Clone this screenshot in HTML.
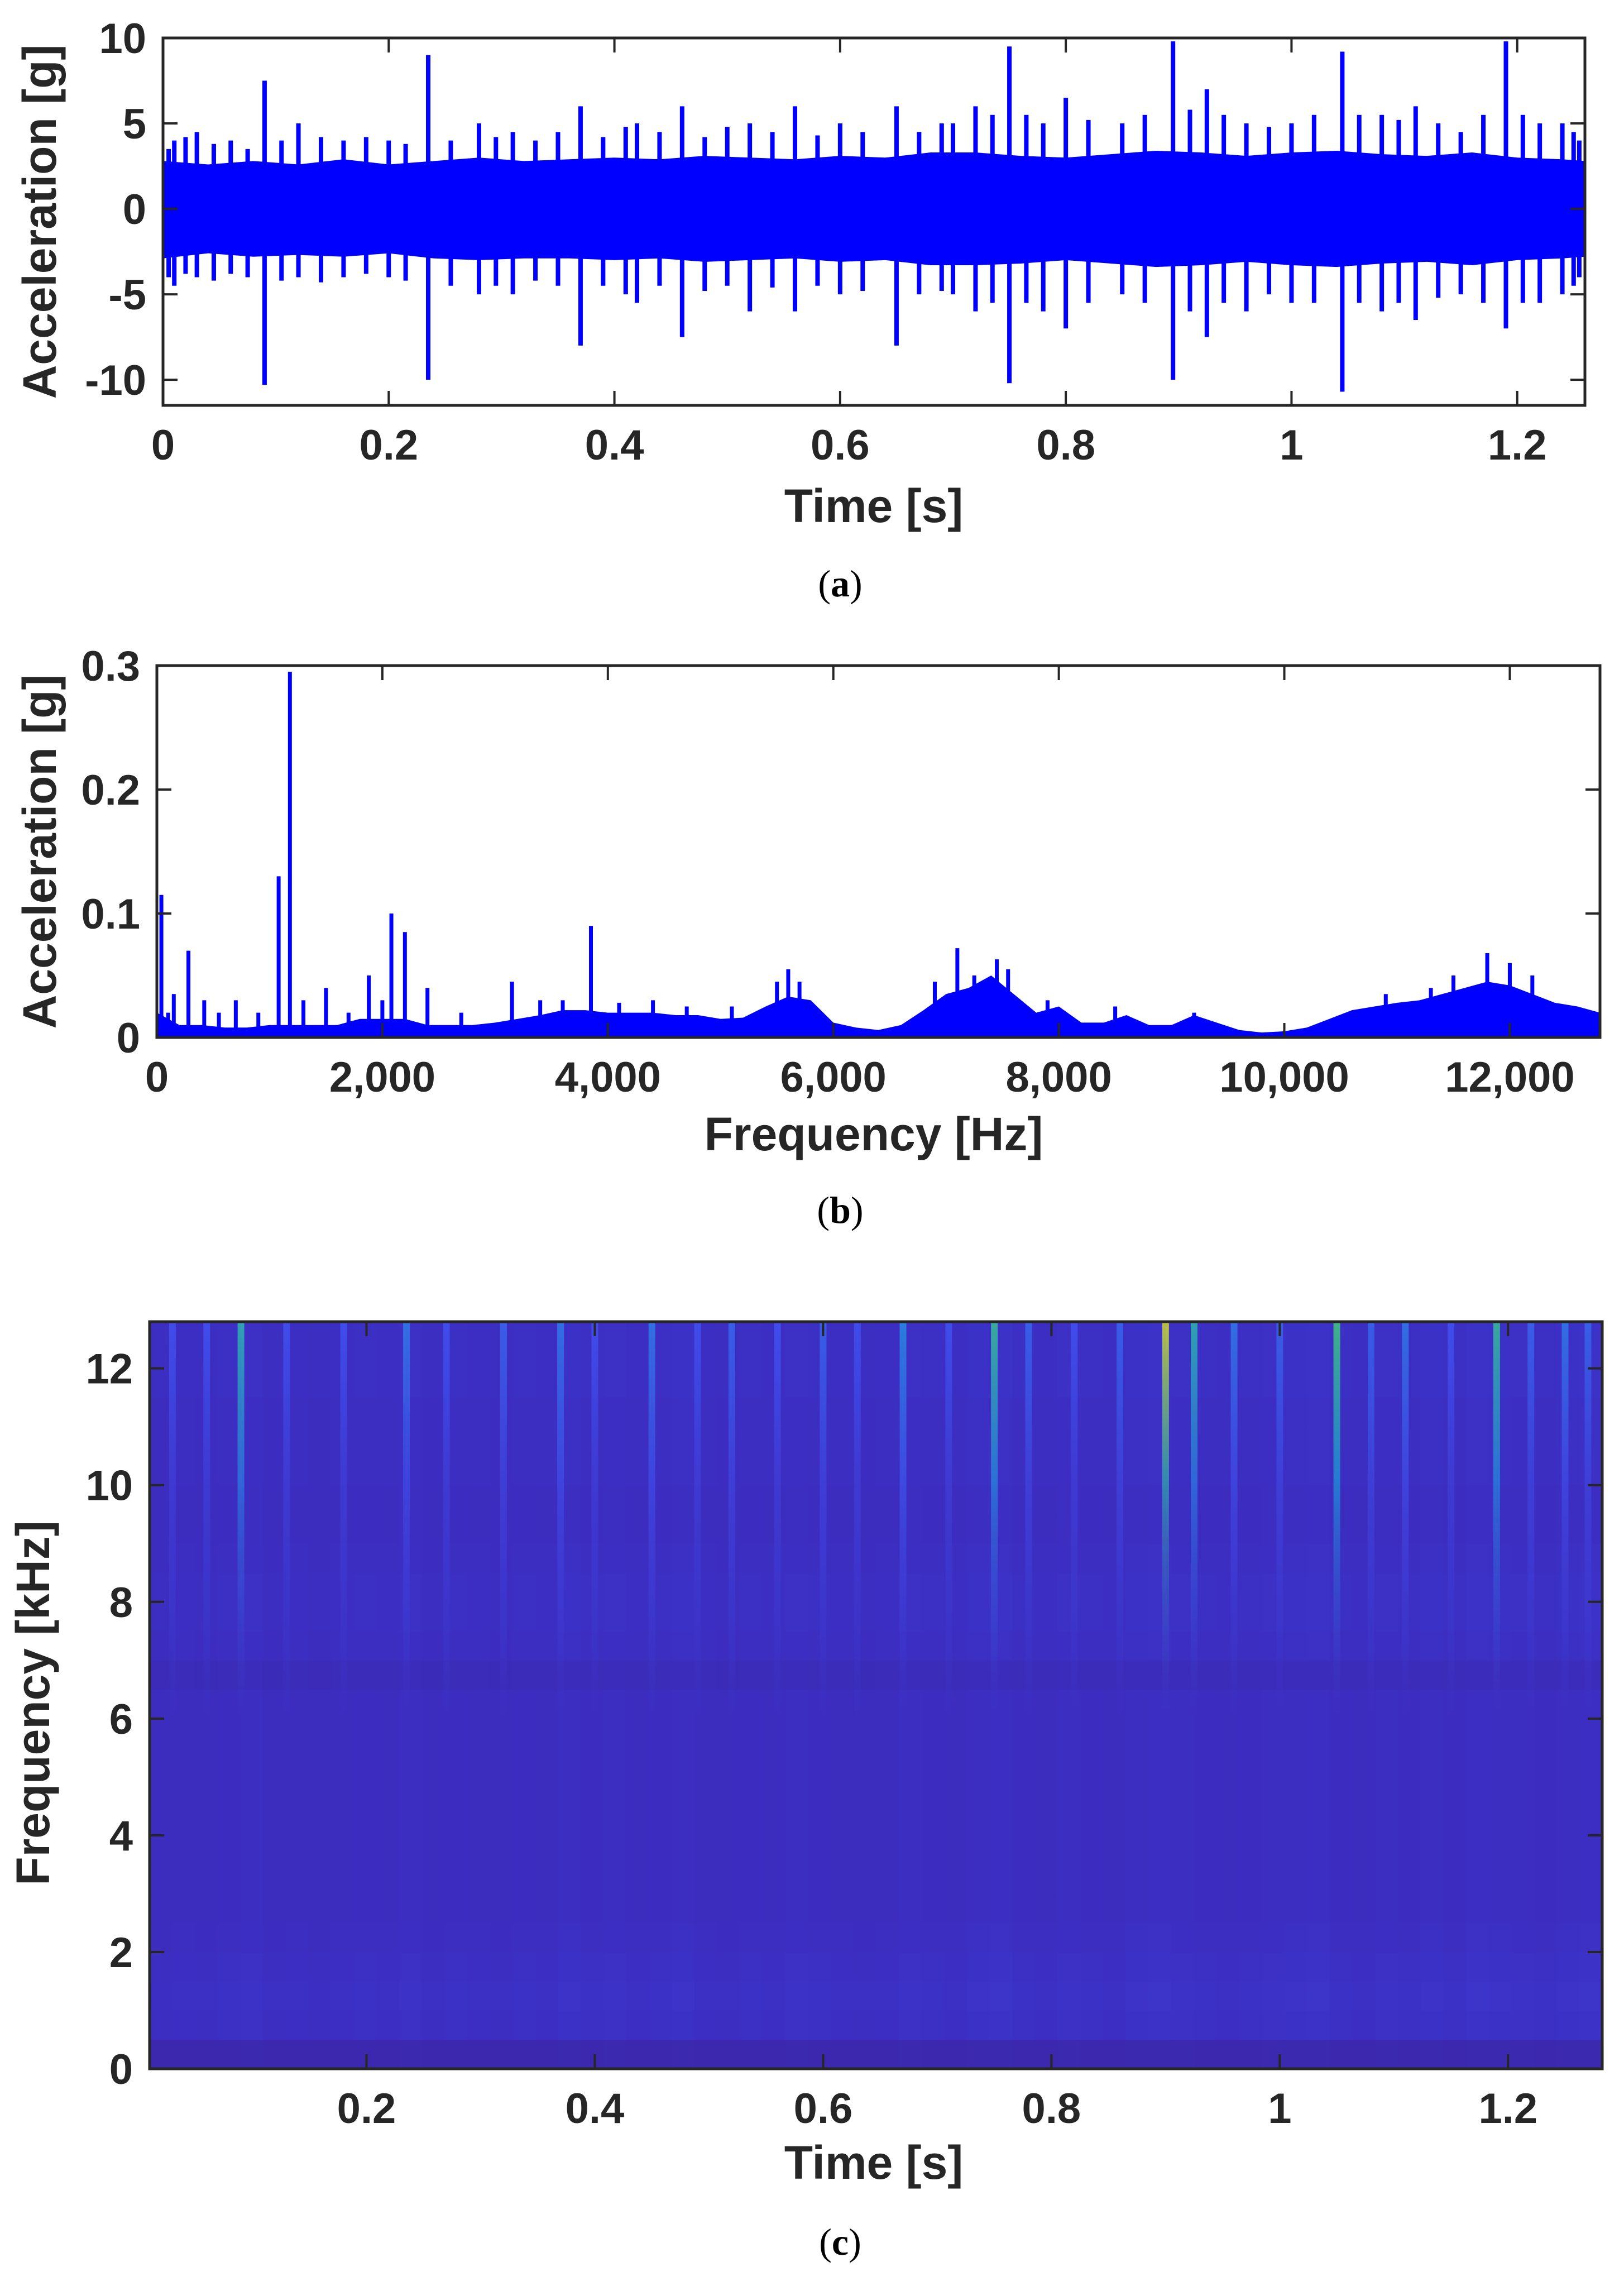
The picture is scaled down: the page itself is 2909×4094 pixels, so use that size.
<!DOCTYPE html>
<html><head><meta charset="utf-8"><style>
body{margin:0;background:#fff;}
svg{display:block;font-family:"Liberation Sans",Arial,sans-serif;}
.tk{font-size:76px;font-weight:bold;fill:#262626;}
.tt{font-size:84px;font-weight:bold;fill:#262626;}
.cap{font-size:68px;font-family:"Liberation Serif",serif;fill:#000;}
</style></head><body>
<svg id="fig" width="2909" height="4094" viewBox="0 0 2909 4094" xmlns="http://www.w3.org/2000/svg">
<rect width="2909" height="4094" fill="#fff"/>
<g id="pa"></g>
<g id="pb"></g>
<g id="pc"></g>
<text class="cap" x="1505" y="1068" text-anchor="middle">(<tspan font-weight="bold">a</tspan>)</text>
<text class="cap" x="1505" y="2190" text-anchor="middle">(<tspan font-weight="bold">b</tspan>)</text>
<text class="cap" x="1505" y="4038" text-anchor="middle">(<tspan font-weight="bold">c</tspan>)</text>
</svg>
<script>
// ---- Panel (a) data ----
const envT = [0,0.04,0.08,0.12,0.16,0.2,0.24,0.28,0.32,0.36,0.4,0.44,0.48,0.52,0.56,0.6,0.64,0.68,0.72,0.76,0.8,0.84,0.88,0.92,0.96,1.0,1.04,1.08,1.12,1.16,1.2,1.24,1.26];
const envPos = [2.8,2.6,2.8,2.6,2.9,2.6,2.8,3.0,2.8,2.9,3.0,2.9,3.1,3.0,2.9,3.1,3.0,3.3,3.3,3.1,3.0,3.2,3.4,3.3,3.1,3.3,3.4,3.2,3.1,3.3,3.0,2.9,2.8];
const envNeg = [-2.9,-2.6,-2.8,-2.7,-2.8,-2.6,-2.9,-3.0,-2.9,-2.9,-3.0,-2.9,-3.1,-3.0,-2.9,-3.1,-3.0,-3.3,-3.3,-3.2,-3.0,-3.2,-3.4,-3.3,-3.1,-3.3,-3.4,-3.2,-3.1,-3.3,-3.0,-2.9,-2.8];
const spikeT = [0.005,0.01,0.02,0.03,0.045,0.06,0.075,0.09,0.105,0.12,0.14,0.16,0.18,0.2,0.215,0.235,0.255,0.28,0.295,0.31,0.33,0.35,0.37,0.39,0.41,0.42,0.44,0.46,0.48,0.5,0.52,0.54,0.56,0.58,0.6,0.62,0.65,0.67,0.69,0.7,0.72,0.735,0.75,0.765,0.78,0.8,0.82,0.85,0.87,0.895,0.91,0.925,0.94,0.96,0.98,1.0,1.02,1.045,1.06,1.08,1.095,1.11,1.13,1.15,1.17,1.19,1.205,1.22,1.24,1.25,1.255];
const spikePos = [3.5,4,4.2,4.5,3.8,4,3.5,7.5,4,5,4.2,4,4.2,4,3.8,9,4,5,4.2,4.5,4,4.5,6,4.2,4.8,5,4.5,6,4.2,4.8,5,4.5,6,4.3,5,4.5,6,4.5,5,5,6,5.5,9.5,5.5,5,6.5,5.2,5,5.5,9.8,5.8,7,5.5,5,4.8,5,5.5,9.2,5.5,5.5,5.2,6,5,4.5,5.5,9.8,5.5,5,5,4.5,4];
const spikeNeg = [-4,-4.5,-3.8,-4,-4.2,-3.8,-4,-10.3,-4.2,-4,-4.3,-4,-3.8,-4,-4.2,-10,-4.5,-5,-4.5,-5,-4.2,-4.5,-8,-4.5,-5,-5.5,-4.5,-7.5,-4.8,-4.5,-6,-4.6,-6,-4.5,-5,-4.8,-8,-5,-4.8,-5,-6,-5.5,-10.2,-5.5,-6,-7,-5.5,-5,-5.5,-10,-6,-7.5,-5.5,-6,-5,-5.5,-5.5,-10.7,-5.5,-6,-5.5,-6.5,-5.2,-5,-5.5,-7,-5.5,-5.5,-5,-4.5,-4];
const aXTicks = [0,0.2,0.4,0.6,0.8,1,1.2];
const aYTicks = [-10,-5,0,5,10];
// ---- Panel (b) data ----
const specF = [0,200,400,600,800,1000,1200,1400,1600,1800,2000,2200,2400,2600,2800,3000,3200,3400,3600,3800,4000,4200,4400,4600,4800,5000,5200,5400,5600,5800,6000,6200,6400,6600,6800,7000,7200,7400,7600,7800,8000,8200,8400,8600,8800,9000,9200,9400,9600,9800,10000,10200,10400,10600,10800,11000,11200,11400,11600,11800,12000,12200,12400,12600,12800];
const specEnv = [0.02,0.01,0.01,0.008,0.008,0.01,0.01,0.01,0.01,0.015,0.015,0.015,0.01,0.01,0.01,0.012,0.015,0.018,0.022,0.022,0.02,0.02,0.02,0.018,0.018,0.015,0.016,0.025,0.033,0.03,0.012,0.008,0.006,0.01,0.022,0.035,0.04,0.05,0.035,0.02,0.025,0.012,0.012,0.018,0.01,0.01,0.018,0.012,0.006,0.004,0.005,0.008,0.015,0.022,0.025,0.028,0.03,0.035,0.04,0.045,0.042,0.035,0.028,0.025,0.02];
const peakF = [40,100,150,280,420,550,700,900,1080,1180,1300,1500,1700,1880,2000,2080,2200,2400,2700,3150,3400,3600,3850,4100,4400,4700,5100,5500,5600,5700,6900,7100,7250,7450,7550,7900,8500,9200,10900,11300,11500,11800,12000,12200];
const peakA = [0.115,0.02,0.035,0.07,0.03,0.02,0.03,0.02,0.13,0.295,0.03,0.04,0.02,0.05,0.03,0.1,0.085,0.04,0.02,0.045,0.03,0.03,0.09,0.028,0.03,0.025,0.025,0.045,0.055,0.045,0.045,0.072,0.05,0.063,0.055,0.03,0.025,0.02,0.035,0.04,0.05,0.068,0.06,0.05];
const bXTicks = [0,2000,4000,6000,8000,10000,12000];
const bXLabels = ["0","2,000","4,000","6,000","8,000","10,000","12,000"];
const bYTicks = [0,0.1,0.2,0.3];
// ---- Panel (c) data ----
const bandLevel = [0.06,0.2,0.21,0.2,0.19,0.18,0.18,0.18,0.18,0.18,0.18,0.18,0.18,0.14,0.19,0.2,0.2,0.19,0.18,0.18,0.19,0.19,0.19,0.2,0.2,0.2];
const timeLevel = [0.3,0.5,0.4,0.6,0.7,0.4,0.5,0.3,0.5,0.6,0.5,0.7,0.4,0.6,0.5,0.4,0.6,0.5,0.8,0.6,0.7,0.5,0.6,0.8,0.5,0.4,0.6,0.5,0.7,0.6,0.5,0.4,0.5,0.7,0.6,0.5,0.8,0.9,0.6,0.5,0.7,0.6,0.5,0.8,0.9,0.7,0.6,0.5,0.6,0.7,0.8,0.9,0.6,0.5,0.7,0.6,0.8,0.6,0.9,0.8,0.7,0.6,0.8,0.9];
const streakT = [0.03,0.06,0.09,0.13,0.18,0.235,0.27,0.32,0.37,0.4,0.45,0.49,0.52,0.56,0.6,0.63,0.67,0.71,0.75,0.78,0.82,0.86,0.9,0.925,0.96,1.0,1.05,1.08,1.11,1.15,1.19,1.22,1.25,1.27];
const streakI = [0.4,0.4,0.7,0.4,0.4,0.5,0.4,0.45,0.5,0.4,0.5,0.4,0.45,0.4,0.45,0.4,0.55,0.4,0.75,0.45,0.4,0.45,0.95,0.7,0.5,0.45,0.8,0.45,0.5,0.4,0.75,0.45,0.5,0.45];
const cXTicks = [0.2,0.4,0.6,0.8,1,1.2];
const cYTicks = [0,2,4,6,8,10,12];

const NS='http://www.w3.org/2000/svg';
function mk(parent,tag,attrs){const e=document.createElementNS(NS,tag);for(const k in attrs)e.setAttribute(k,attrs[k]);parent.appendChild(e);return e;}
function scale(d0,d1,r0,r1){return v=>r0+(v-d0)/(d1-d0)*(r1-r0);}

function frame(g,L,T,R,B,xs,ys,xt,xl,yt,yl){
  const ax=mk(g,'rect',{x:L,y:T,width:R-L,height:B-T,fill:'none',stroke:'#262626','stroke-width':5});
  
  
  xt.forEach((v,i)=>{const x=xs(v);
    mk(g,'line',{x1:x,x2:x,y1:B,y2:B-26,stroke:'#262626','stroke-width':4});
    mk(g,'line',{x1:x,x2:x,y1:T,y2:T+26,stroke:'#262626','stroke-width':4});
    const t=mk(g,'text',{x:x,y:B+97,'text-anchor':'middle',class:'tk'});t.textContent=xl[i];
    
    
  });
  yt.forEach((v,i)=>{const y=ys(v);
    mk(g,'line',{x1:L,x2:L+26,y1:y,y2:y,stroke:'#262626','stroke-width':4});
    mk(g,'line',{x1:R,x2:R-26,y1:y,y2:y,stroke:'#262626','stroke-width':4});
    const t=mk(g,'text',{x:L-30,y:y+27,'text-anchor':'end',class:'tk'});t.textContent=yl[i];
    
    
  });
}
function titles(g,xT,xY,yT,yX,yY){
  const a=mk(g,'text',{x:xT.x,y:xY,'text-anchor':'middle',class:'tt'});a.textContent=xT.s;
  
  
  const b=mk(g,'text',{x:0,y:0,'text-anchor':'middle',class:'tt',transform:`translate(${yX},${yY}) rotate(-90)`});b.textContent=yT;
  
  
}

// Panel A
(function(){
  const g=document.getElementById('pa');
  const L=292,R=2839,T=68,B=726;
  const xs=scale(0,1.26,L,R), ys=scale(-11.5,10,B,T);
  let pts=envT.map((t,i)=>xs(t)+','+ys(envPos[i]));
  pts=pts.concat(envT.slice().reverse().map((t,j)=>xs(t)+','+ys(envNeg[envT.length-1-j])));
  const band=mk(g,'polygon',{points:pts.join(' '),fill:'#0000ff'});
  
  
  spikeT.forEach((t,i)=>{
    const l=mk(g,'line',{x1:xs(t),x2:xs(t),y1:ys(spikePos[i]),y2:ys(spikeNeg[i]),stroke:'#0000ff','stroke-width':8});
    
    
  });
  frame(g,L,T,R,B,xs,ys,aXTicks,aXTicks.map(String),aYTicks,aYTicks.map(String));
  titles(g,{x:1565,s:'Time [s]'},935,'Acceleration [g]',100,397);
})();

// Panel B
(function(){
  const g=document.getElementById('pb');
  const L=281,R=2866,T=1192,B=1858;
  const xs=scale(0,12800,L,R), ys=scale(0,0.3,B,T);
  let pts=[xs(0)+','+B].concat(specF.map((f,i)=>xs(f)+','+ys(specEnv[i]))).concat([xs(12800)+','+B]);
  const area=mk(g,'polygon',{points:pts.join(' '),fill:'#0000ff'});
  
  
  peakF.forEach((f,i)=>{
    const l=mk(g,'line',{x1:xs(f),x2:xs(f),y1:B,y2:ys(peakA[i]),stroke:'#0000ff','stroke-width':7});
    
    
  });
  frame(g,L,T,R,B,xs,ys,bXTicks,bXLabels,bYTicks,bYTicks.map(String));
  titles(g,{x:1565,s:'Frequency [Hz]'},2060,'Acceleration [g]',100,1525);
})();

// Panel C
(function(){
  const g=document.getElementById('pc');
  const L=268,R=2870,T=2367,B=3705;
  const xs=scale(0.01,1.2825,L,R), ys=scale(0,12.8,B,T);
  const stops=[[0,[58,38,166]],[0.2,[60,46,194]],[0.4,[64,80,239]],[0.6,[29,155,219]],[0.8,[64,192,128]],[1,[245,208,32]]];
  function col(v){v=Math.max(0,Math.min(1,v));for(let i=1;i<stops.length;i++){if(v<=stops[i][0]){const a=stops[i-1],b=stops[i],f=(v-a[0])/(b[0]-a[0]);return 'rgb('+a[1].map((c,k)=>Math.round(c+(b[1][k]-c)*f)).join(',')+')';}}return 'rgb(245,208,32)';}
  const dt=(1.2825-0.01)/timeLevel.length;
  bandLevel.forEach((bl,fi)=>{
    const y0=ys(Math.min(12.8,(fi+1)*0.5)), y1=ys(fi*0.5);
    timeLevel.forEach((tl,ti)=>{
      const x0=xs(0.01+ti*dt), x1=xs(0.01+(ti+1)*dt);
      const r=mk(g,'rect',{x:x0,y:y0,width:x1-x0+0.6,height:y1-y0+0.6,fill:col(bl*(0.85+0.3*tl))});
      
      
    });
  });
  const defs=mk(g,'defs',{});
  streakT.forEach((t,i)=>{
    const id='sg'+i;
    const lg=mk(defs,'linearGradient',{id:id,x1:0,y1:0,x2:0,y2:1});
    mk(lg,'stop',{offset:'0','stop-color':col(streakI[i]),'stop-opacity':0.9});
    mk(lg,'stop',{offset:'0.4','stop-color':col(streakI[i]*0.75),'stop-opacity':0.7});
    mk(lg,'stop',{offset:'1','stop-color':col(0.3),'stop-opacity':0});
    const r=mk(g,'rect',{x:xs(t)-6,y:T,width:12,height:ys(6)-T,fill:`url(#${id})`});
    
    
  });
  frame(g,L,T,R,B,xs,ys,cXTicks,cXTicks.map(String),cYTicks,cYTicks.map(String));
  titles(g,{x:1565,s:'Time [s]'},3902,'Frequency [kHz]',88,3050);
})();
</script>
</body></html>
